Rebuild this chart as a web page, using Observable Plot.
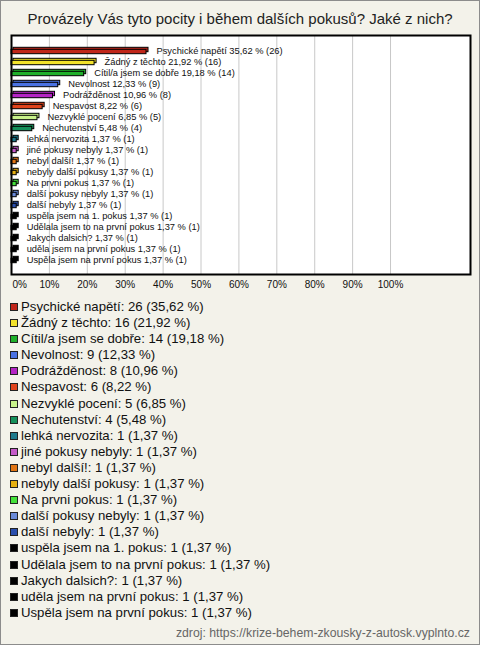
<!DOCTYPE html>
<html><head><meta charset="utf-8">
<script src="https://cdn.jsdelivr.net/npm/d3@7"></script>
<script src="https://cdn.jsdelivr.net/npm/@observablehq/plot@0.6"></script>
<style>
html,body{margin:0;padding:0;background:#fff;}
#wrap{position:relative;width:480px;height:645px;background:#f3f2ea;font-family:"Liberation Sans",Arial,sans-serif;overflow:hidden;}
#title{position:absolute;left:0;top:9px;width:480px;text-align:center;font-size:15px;line-height:20px;color:#222;}
#chart{position:absolute;left:0;top:30px;}
#legend{position:absolute;left:10px;top:299px;}
.row{height:16.1px;line-height:16.1px;font-size:13.2px;color:#111;white-space:nowrap;}
.sw{display:inline-block;width:6px;height:6px;border:1px solid #222;margin-right:3px;vertical-align:0px;}
#src{position:absolute;right:10px;top:625px;font-size:12.25px;line-height:16px;color:#666;}
#border{position:absolute;left:0;top:0;width:480px;height:645px;box-sizing:border-box;border:1px solid #8c8c8c;pointer-events:none;}
</style>
</head><body>
<div id="wrap">
  <div id="title">Provázely Vás tyto pocity i během dalších pokusů? Jaké z nich?</div>
  <div id="chart"></div>
  <div id="legend"></div>
  <div id="src">zdroj: https://krize-behem-zkousky-z-autosk.vyplnto.cz</div>
  <div id="border"></div>
</div>
<script>
const categories = [
  "Psychické napětí","Žádný z těchto","Cítil/a jsem se dobře","Nevolnost","Podrážděnost",
  "Nespavost","Nezvyklé pocení","Nechutenství","lehká nervozita","jiné pokusy nebyly",
  "nebyl další!","nebyly další pokusy","Na prvni pokus","další pokusy nebyly","další nebyly",
  "uspěla jsem na 1. pokus","Udělala jsem to na první pokus","Jakych dalsich?","uděla jsem na první pokus","Uspěla jsem na první pokus"
];
const counts = [26,16,14,9,8,6,5,4,1,1,1,1,1,1,1,1,1,1,1,1];
const percents = [35.62,21.92,19.18,12.33,10.96,8.22,6.85,5.48,1.37,1.37,1.37,1.37,1.37,1.37,1.37,1.37,1.37,1.37,1.37,1.37];
const tickValues = [0,10,20,30,40,50,60,70,80,90,100];

const palette = ["#c0261a","#f2e22c","#1fb02a","#4a72e2","#b424c4","#e0441c","#c8f28a","#15905a",
  "#1f7a8c","#c45ac8","#e07414","#e6b012","#44e03a","#6a8ad8","#2a4eac",
  "#000000","#000000","#000000","#000000","#000000"];

const fmt = v => v.toFixed(2).replace(".", ",");
const data = categories.map((name, i) => ({name, count: counts[i], pct: percents[i]}));

const chart = Plot.plot({
  width: 480, height: 270,
  marginTop: 5, marginBottom: 26, marginLeft: 11, marginRight: 10,
  style: {background: "transparent", fontFamily: "'Liberation Sans', Arial, sans-serif", overflow: "visible"},
  x: {axis: null, domain: [0, 121.1]},
  y: {axis: null, domain: categories, padding: 0},
  color: {domain: categories, range: palette},
  marks: [
    Plot.frame({fill: "white", stroke: "none"}),
    Plot.ruleX(tickValues.filter(d => d > 0), {stroke: "#c8c8c8", strokeWidth: 1}),
    Plot.barX(data, {x: "pct", y: "name", fill: "name", stroke: "#000", strokeWidth: 1, insetTop: 3.3, insetBottom: 3.3, dx: 2, dy: -1}),
    Plot.barX(data, {x: "pct", y: "name", fill: "name", stroke: "#000", strokeWidth: 1, insetTop: 3.3, insetBottom: 3.3, dy: 1}),
    Plot.text(data, {x: "pct", y: "name", text: d => `${d.name} ${fmt(d.pct)} % (${d.count})`, textAnchor: "start", dx: 10, fontSize: 9.3, fill: "#111"}),
    Plot.frame({stroke: "#000", strokeWidth: 2}),
    Plot.text(tickValues.filter(d => d === 0), {x: d => d, frameAnchor: "bottom", dy: 13, text: d => d + "%", textAnchor: "start", dx: 1, fontSize: 10, fill: "#111"}),
    Plot.text(tickValues.filter(d => d > 0), {x: d => d, frameAnchor: "bottom", dy: 13, text: d => d + "%", fontSize: 10, fill: "#111"})
  ]
});
document.getElementById("chart").appendChild(chart);

const legend = document.getElementById("legend");
data.forEach((d, i) => {
  const row = document.createElement("div");
  row.className = "row";
  const sw = document.createElement("span");
  sw.className = "sw";
  sw.style.background = palette[i];
  row.appendChild(sw);
  row.appendChild(document.createTextNode(`${d.name}: ${d.count} (${fmt(d.pct)} %)`));
  legend.appendChild(row);
});
</script>
</body></html>
